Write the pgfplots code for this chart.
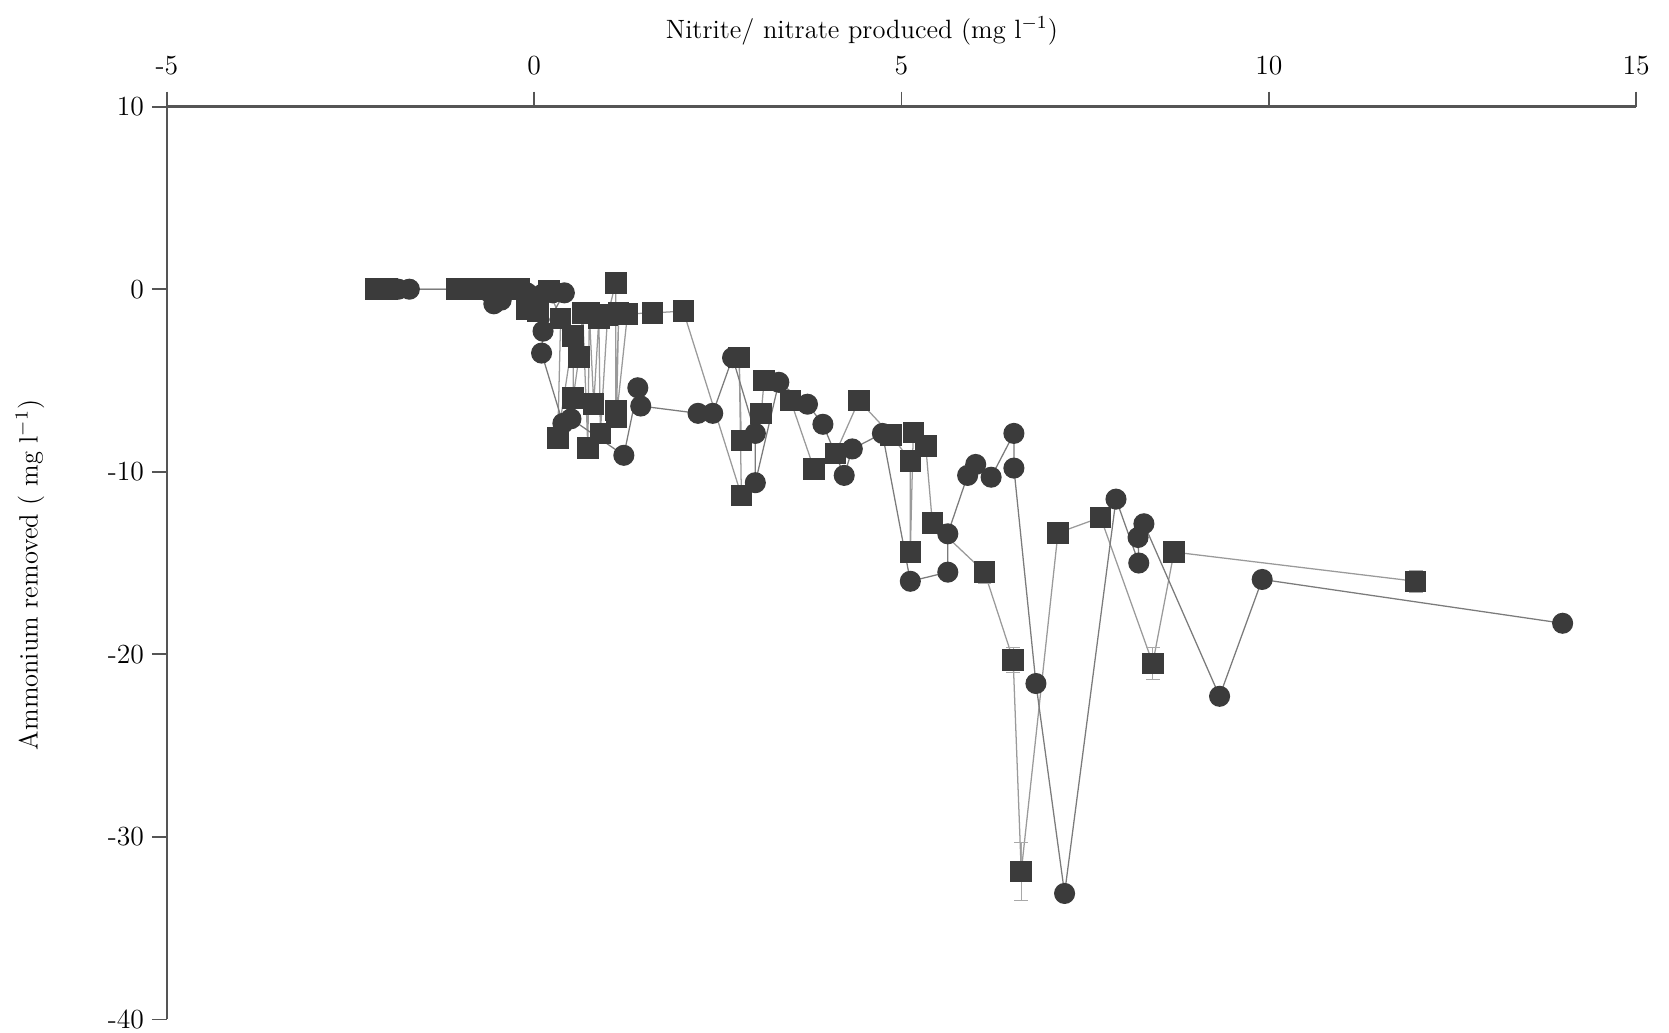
\documentclass[border=0pt]{standalone}
\usepackage{pgfplots}
\pgfplotsset{compat=1.18}

\definecolor{markgray}{HTML}{3B3B3B}
\definecolor{linegray}{HTML}{9A9A9A}
\definecolor{errgray}{HTML}{A8A8A8}
\definecolor{axisgray}{HTML}{555555}

\begin{document}
\begin{tikzpicture}
\useasboundingbox (-72.5pt,-5.6pt) rectangle (652.3pt,442.7pt);
\begin{axis}[
  width=638pt, height=396.4pt, scale only axis,
  xmin=-5, xmax=15, ymin=-40, ymax=10,
  axis x line=top, axis y line=left,
  axis line style={-, color=axisgray, line width=1.1pt},
  xtick={-5,0,5,10,15}, ytick={-40,-30,-20,-10,0,10},
  tick align=outside, major tick length=6.5pt,
  tick style={color=axisgray, line width=0.8pt},
  /pgf/number format/assume math mode=true,
  ticklabel style={font=\fontsize{12}{14}\selectfont},
  xticklabel style={yshift=3.5pt},
  xlabel={Nitrite/ nitrate produced (mg l$^{-1}$)},
  ylabel={Ammonium removed ( mg l$^{-1}$)},
  label style={font=\fontsize{11.5}{14}\selectfont},
  xlabel style={at={([yshift=33pt]axis description cs:0.473,1)}, anchor=center},
  ylabel style={at={([xshift=-59.5pt]axis description cs:0,0.487)}, anchor=center},
  clip=false,
]
% squares, with standard errors
\addplot[color=linegray, line width=0.55pt,
  mark=square*, mark size=4.4pt,
  mark options={fill=markgray, draw=markgray, solid},
  error bars/.cd, y dir=both, y explicit,
  error bar style={color=errgray, line width=0.55pt},
  error mark options={rotate=90, mark size=3pt, color=errgray}]
coordinates {
(-2.16,0) +- (0,0)
(-2.0,0) +- (0,0)
(-1.06,0) +- (0,0)
(-0.9,0) +- (0,0)
(-0.7,0) +- (0,0)
(-0.5,0) +- (0,0)
(-0.35,0) +- (0,0)
(-0.2,0) +- (0,0)
(-0.1,-1.1) +- (0,0)
(0.05,-1.2) +- (0,0)
(0.2,-0.1) +- (0,0)
(0.36,-1.6) +- (0,0)
(0.32,-8.15) +- (0,0)
(0.53,-2.55) +- (0,0)
(0.53,-5.95) +- (0,0)
(0.61,-3.7) +- (0,0)
(0.66,-1.3) +- (0,0)
(0.73,-8.7) +- (0,0)
(0.75,-1.3) +- (0,0)
(0.81,-6.3) +- (0,0)
(0.88,-1.6) +- (0,0)
(0.90,-7.9) +- (0,0)
(1.0,-1.4) +- (0,0)
(1.11,0.35) +- (0,0)
(1.11,-6.65) +- (0,0)
(1.15,-1.3) +- (0,0)
(1.12,-7.0) +- (0,0)
(1.27,-1.35) +- (0,0)
(1.61,-1.3) +- (0,0)
(2.03,-1.2) +- (0,0)
(2.82,-11.3) +- (0,0.5)
(2.79,-3.75) +- (0,0)
(2.82,-8.3) +- (0,0)
(3.09,-6.8) +- (0,0)
(3.13,-5.0) +- (0,0)
(3.49,-6.1) +- (0,0)
(3.81,-9.85) +- (0,0)
(4.10,-9.0) +- (0,0)
(4.42,-6.1) +- (0,0)
(4.86,-8.0) +- (0,0)
(5.12,-9.4) +- (0,0)
(5.12,-14.4) +- (0,0.5)
(5.16,-7.85) +- (0,0)
(5.33,-8.6) +- (0,0)
(5.42,-12.8) +- (0,0.3)
(6.13,-15.5) +- (0,0.6)
(6.52,-20.3) +- (0,0.7)
(6.63,-31.9) +- (0,1.6)
(7.13,-13.35) +- (0,0.5)
(7.71,-12.5) +- (0,0.5)
(8.42,-20.5) +- (0,0.9)
(8.71,-14.4) +- (0,0.5)
(12.0,-16.0) +- (0,0.6)
};
% circles
\addplot[color=linegray!80!black, line width=0.55pt,
  mark=*, mark size=4.3pt,
  mark options={fill=markgray, draw=markgray, solid}]
coordinates {
(-1.85,0) (-1.7,0) (-0.75,0) (-0.6,-0.2) (-0.55,-0.8) (-0.45,-0.6)
(-0.3,0) (-0.1,-0.2) (0.1,-0.3) (0.25,-0.2) (0.41,-0.2) (0.12,-2.3)
(0.10,-3.5) (0.39,-7.35) (0.50,-7.1) (1.22,-9.1) (1.41,-5.4) (1.45,-6.4)
(2.23,-6.8) (2.43,-6.8) (2.70,-3.75) (3.01,-7.9) (3.01,-10.6) (3.33,-5.1)
(3.72,-6.3) (3.93,-7.4) (4.22,-10.2) (4.33,-8.75) (4.74,-7.9) (5.12,-16.0)
(5.63,-15.5) (5.63,-13.4) (5.90,-10.2) (6.01,-9.6) (6.22,-10.3) (6.53,-7.9)
(6.53,-9.8) (6.83,-21.6) (7.22,-33.1) (7.92,-11.5) (8.23,-15.0) (8.22,-13.6)
(8.30,-12.85) (9.33,-22.3) (9.91,-15.9) (14.0,-18.3)
};
\end{axis}
\end{tikzpicture}
\end{document}
